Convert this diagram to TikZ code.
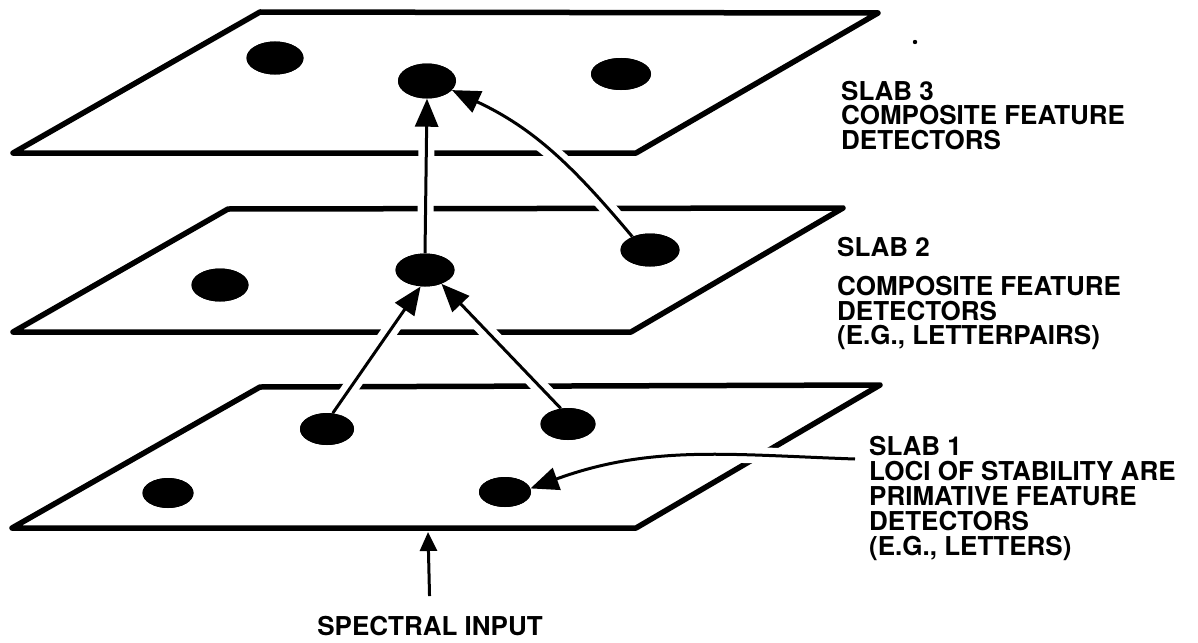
\documentclass[tikz,border=0pt]{standalone}
\usepackage{fontspec}
\setmainfont{TeX Gyre Heros}
\usetikzlibrary{arrows.meta,shapes.geometric}
\begin{document}
\begin{tikzpicture}[x=1pt,y=-1pt,
  slabedge/.style={line width=5.5pt, line join=round, line cap=round},
  dot/.style={ellipse, fill=black, draw=none, inner sep=0pt},
  halo/.style={draw=white, line width=16pt},
  conn/.style={line width=3pt, -{Triangle[length=28pt,width=23pt]}},
  lbl/.style={font=\bfseries\fontsize{26}{24.5}\selectfont, align=left, inner sep=0pt, anchor=north west}]
\useasboundingbox (0,0) rectangle (1198,642);

% slabs
\draw[slabedge] (13,153) -- (636,153) -- (878,13) -- (260,12) -- cycle;
\draw[slabedge] (13,332) -- (631,332) -- (843,208) -- (228,209) -- cycle;
\draw[slabedge] (12,528) -- (636,528) -- (880,385) -- (260,387) -- cycle;

% dots
\path
  (275,58)  node[dot, minimum width=57pt, minimum height=33pt] (d31) {}
  (427,81)  node[dot, minimum width=58pt, minimum height=35pt] (d32) {}
  (621,74)  node[dot, minimum width=60pt, minimum height=32pt] (d33) {}
  (220,285) node[dot, minimum width=57pt, minimum height=33pt] (d21) {}
  (425,270) node[dot, minimum width=59pt, minimum height=33pt] (d22) {}
  (650,250) node[dot, minimum width=59pt, minimum height=33pt] (d23) {}
  (327,429) node[dot, minimum width=54pt, minimum height=32pt] (s1a) {}
  (568,424) node[dot, minimum width=55pt, minimum height=32pt] (s1b) {}
  (168,493) node[dot, minimum width=51pt, minimum height=30pt] (s1c) {}
  (505,492) node[dot, minimum width=52pt, minimum height=30pt] (s1d) {};

\coordinate (tail) at (855,459);
\coordinate (s1bot) at (428,532);

% labels
\node[lbl] (t3) at (841,81) {SLAB 3\\COMPOSITE FEATURE\\DETECTORS};
\node[lbl] (t2) at (837,237) {SLAB 2\\[15pt]COMPOSITE FEATURE\\DETECTORS\\(E.G., LETTERPAIRS)};
\node[lbl, font=\bfseries\fontsize{26}{25}\selectfont] (t1) at (869,436) {SLAB 1\\LOCI OF STABILITY ARE\\PRIMATIVE FEATURE\\DETECTORS\\(E.G., LETTERS)};
\node[font=\bfseries\fontsize{26}{24.5}\selectfont, inner sep=0pt] (spec) at (430,626) {SPECTRAL INPUT};

% halos: gaps in slab edges where connectors cross
\draw[halo] (d22.north) -- (d32.south);
\draw[halo] (d23.143) to[out=130,in=-25] (d32.-20);
\draw[halo] (s1a.70) -- (d22.-105);
\draw[halo] (s1b.115) -- (d22.-40);
\draw[halo] (tail) to[out=178,in=20] (s1d.8);

% dots again over the halos
\path[fill=black] (275,58) ellipse[x radius=28.5pt, y radius=16.5pt]
  (427,81) ellipse[x radius=29pt, y radius=17.5pt]
  (621,74) ellipse[x radius=30pt, y radius=16pt]
  (220,285) ellipse[x radius=28.5pt, y radius=16.5pt]
  (425,270) ellipse[x radius=29.5pt, y radius=16.5pt]
  (650,250) ellipse[x radius=29.5pt, y radius=16.5pt]
  (327,429) ellipse[x radius=27pt, y radius=16pt]
  (568,424) ellipse[x radius=27.5pt, y radius=16pt]
  (168,493) ellipse[x radius=25.5pt, y radius=15pt]
  (505,492) ellipse[x radius=26pt, y radius=15pt];

% connectors
\draw[conn] (d22.north) -- (d32.south);
\draw[conn] (d23.143) to[out=130,in=-25] (d32.-20);
\draw[conn] (s1a.70) -- (d22.-105);
\draw[conn] (s1b.115) -- (d22.-40);
\draw[conn] (tail) to[out=178,in=20] (s1d.8);
\draw[line width=3pt, -{Triangle[length=19pt,width=17pt]}, shorten <=20pt] (spec.north) -- (s1bot);

% speck
\fill (915,42) circle[radius=2.2pt];
\end{tikzpicture}
\end{document}
